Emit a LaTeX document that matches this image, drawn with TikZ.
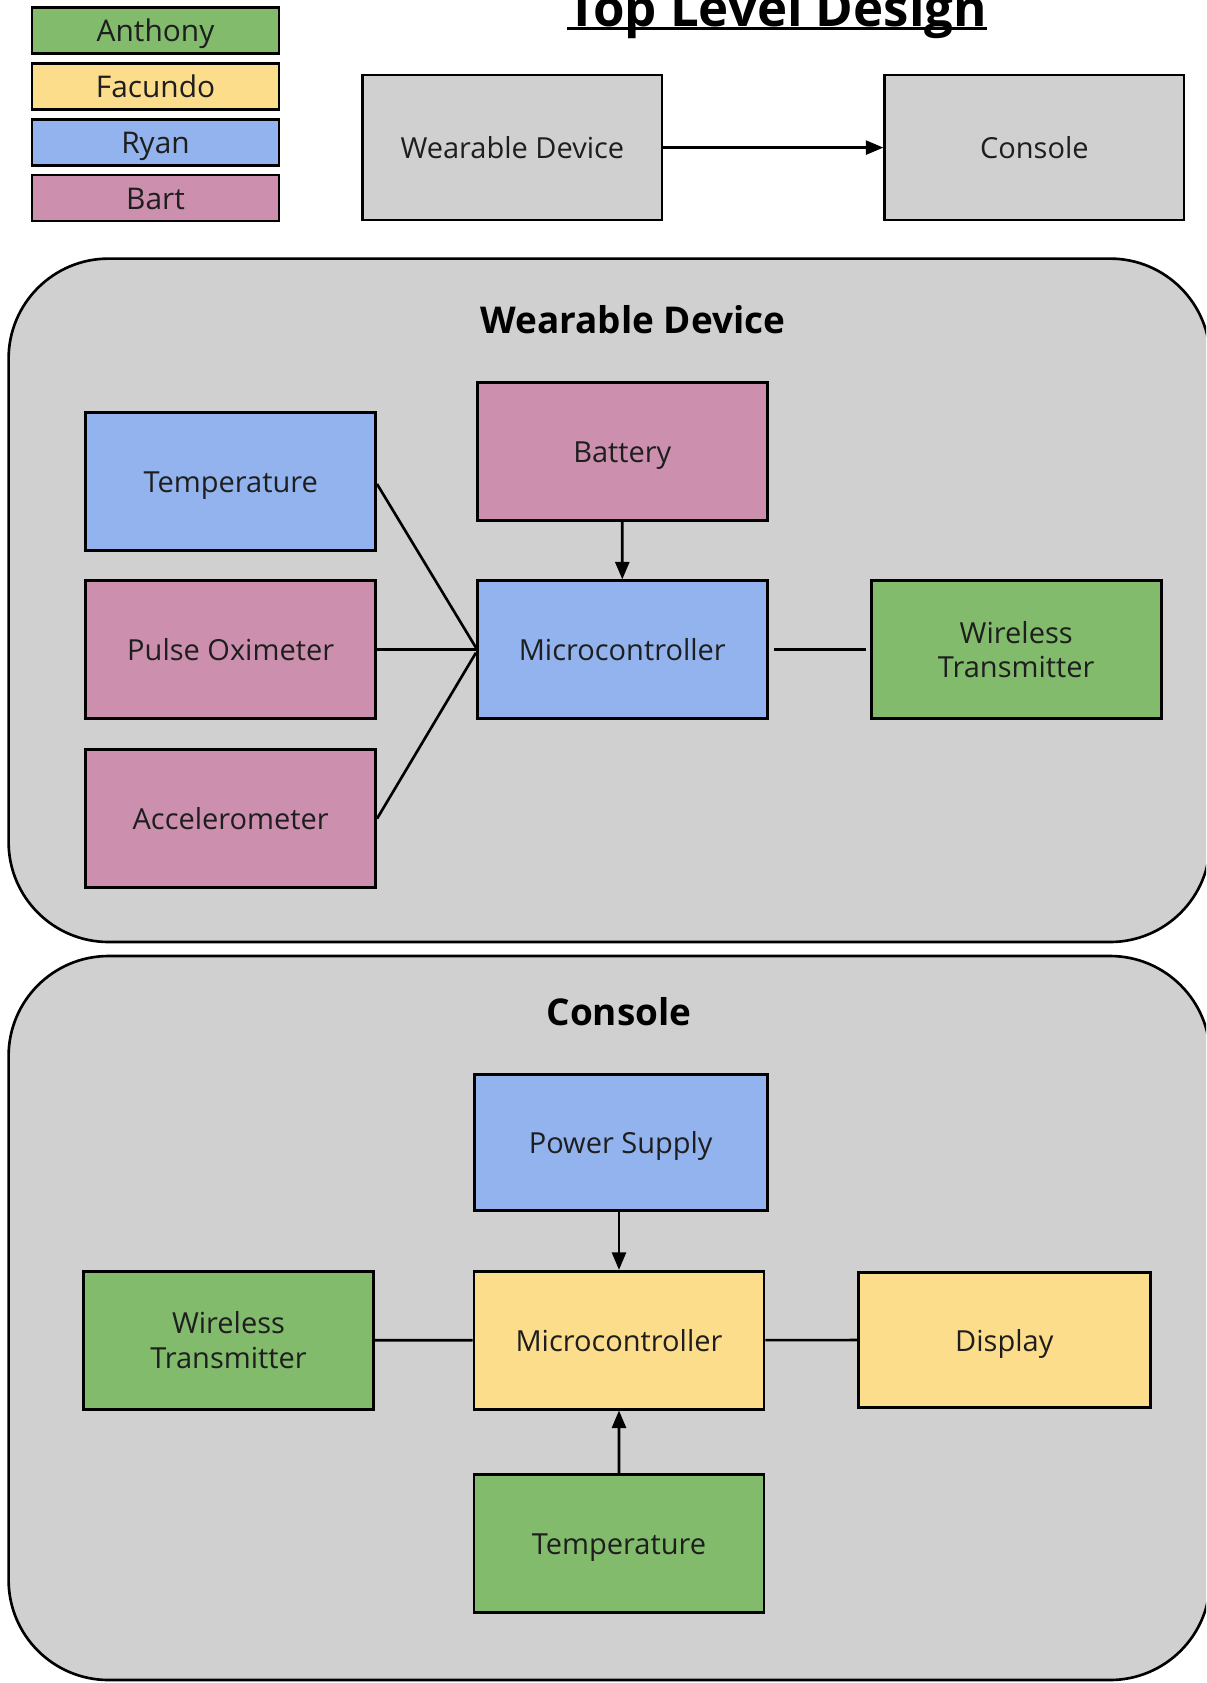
\documentclass[tikz,border=0pt]{standalone}
\usepackage{fontspec}
\setmainfont{Open Sans}
\usetikzlibrary{arrows.meta}

\definecolor{anthonygreen}{HTML}{82BB6C}
\definecolor{facundoyellow}{HTML}{FCDD8C}
\definecolor{ryanblue}{HTML}{92B3EE}
\definecolor{bartpink}{HTML}{CC90AE}
\definecolor{panelgray}{HTML}{D0D0D0}
\definecolor{inkdark}{HTML}{1E1E1E}

\begin{document}
\begin{tikzpicture}[scale=0.2,
  box/.style={draw=black, line width=1.5pt, minimum width=5.8cm, minimum height=2.76cm,
    align=center, text=inkdark, font=\fontsize{16.5}{19.5}\selectfont,
    text height=12.5pt, text depth=0pt},
  twoline/.style={text height=, text depth=},
  topbox/.style={box, fill=panelgray, minimum width=5.99cm, minimum height=2.9cm},
  key/.style={box, minimum width=4.94cm, minimum height=0.92cm, inner sep=0pt,
    font=\fontsize{17}{20}\selectfont, text height=12.9pt},
  panel/.style={draw=black, fill=panelgray, line width=1.5pt, rounded corners=2cm},
  heading/.style={text=black, font=\fontsize{21}{25}\selectfont\bfseries},
  wire/.style={line width=1.5pt},
  feed/.style={wire, -{Triangle[length=10pt,width=8pt]}}
]
\useasboundingbox (0,0) rectangle (120.6,-168.3);
\clip (0,0) rectangle (120.6,-168.3);

% legend
\node[key, fill=anthonygreen] (anth) at (15.55,-3.06) {Anthony};
\node[key, fill=facundoyellow] (facu) at (15.55,-8.64) {Facundo};
\node[key, fill=ryanblue] (ryan) at (15.55,-14.22) {Ryan};
\node[key, fill=bartpink] (bart) at (15.55,-19.80) {Bart};

% top level
\node[anchor=base, inner sep=0pt, text=black, font=\fontsize{29}{34}\selectfont\bfseries]
  (title) at (77.7,-2.6) {Top Level Design};
\draw[line width=1.6pt] ([yshift=-0.25cm]title.base west) -- ([yshift=-0.25cm]title.base east);
\node[topbox] (topwd) at (51.24,-14.76) {Wearable Device};
\node[topbox] (topcon) at (103.44,-14.76) {Console};
\draw[feed] (topwd) -- (topcon);

% wearable device
\draw[panel] (0.86,-25.86) rectangle (121.0,-94.2);
\node[heading] (wdhead) at (63.3,-31.97) {Wearable Device};
\node[box, fill=ryanblue] (wdtemp) at (23.07,-48.18) {Temperature};
\node[box, fill=bartpink] (wdpulse) at (23.07,-64.97) {Pulse Oximeter};
\node[box, fill=bartpink] (wdaccel) at (23.07,-81.82) {Accelerometer};
\node[box, fill=bartpink] (wdbatt) at (62.23,-45.17) {Battery};
\node[box, fill=ryanblue] (wdmcu) at (62.23,-64.97) {Microcontroller};
\node[box, twoline, fill=anthonygreen] (wdtx) at (101.62,-64.97) {Wireless\\Transmitter};

\draw[wire] ([yshift=-0.22cm]wdtemp.east) -- ([yshift=0.2cm]wdmcu.west);
\draw[wire] (wdpulse.east) -- (wdmcu.west);
\draw[wire] ([yshift=-0.05cm]wdaccel.east) -- ([yshift=-0.3cm]wdmcu.west);
\draw[feed] (wdbatt) -- (wdmcu);
\draw[wire, shorten <=0.1cm, shorten >=0.08cm] (wdmcu.east) -- (wdtx.west);

% console
\draw[panel] (0.86,-95.6) rectangle (121.0,-168.0);
\node[heading] (chead) at (61.9,-101.18) {Console};
\node[box, fill=ryanblue, minimum width=5.86cm, minimum height=2.72cm] (cpsu) at (62.07,-114.22) {Power Supply};
\node[box, fill=facundoyellow] (cmcu) at (61.9,-134.02) {Microcontroller};
\node[box, twoline, fill=anthonygreen] (ctx) at (22.85,-134.02) {Wireless\\Transmitter};
\node[box, fill=facundoyellow, minimum width=5.84cm, minimum height=2.7cm] (cdisp) at (100.43,-134.0) {Display};
\node[box, fill=anthonygreen] (ctemp) at (61.9,-154.35) {Temperature};

\draw[feed] (cmcu.north |- cpsu.south) -- (cmcu.north);
\draw[feed] (ctemp) -- (cmcu);
\draw[wire] (ctx) -- (cmcu);
\draw[wire] (cmcu) -- (cdisp);
\end{tikzpicture}
\end{document}
